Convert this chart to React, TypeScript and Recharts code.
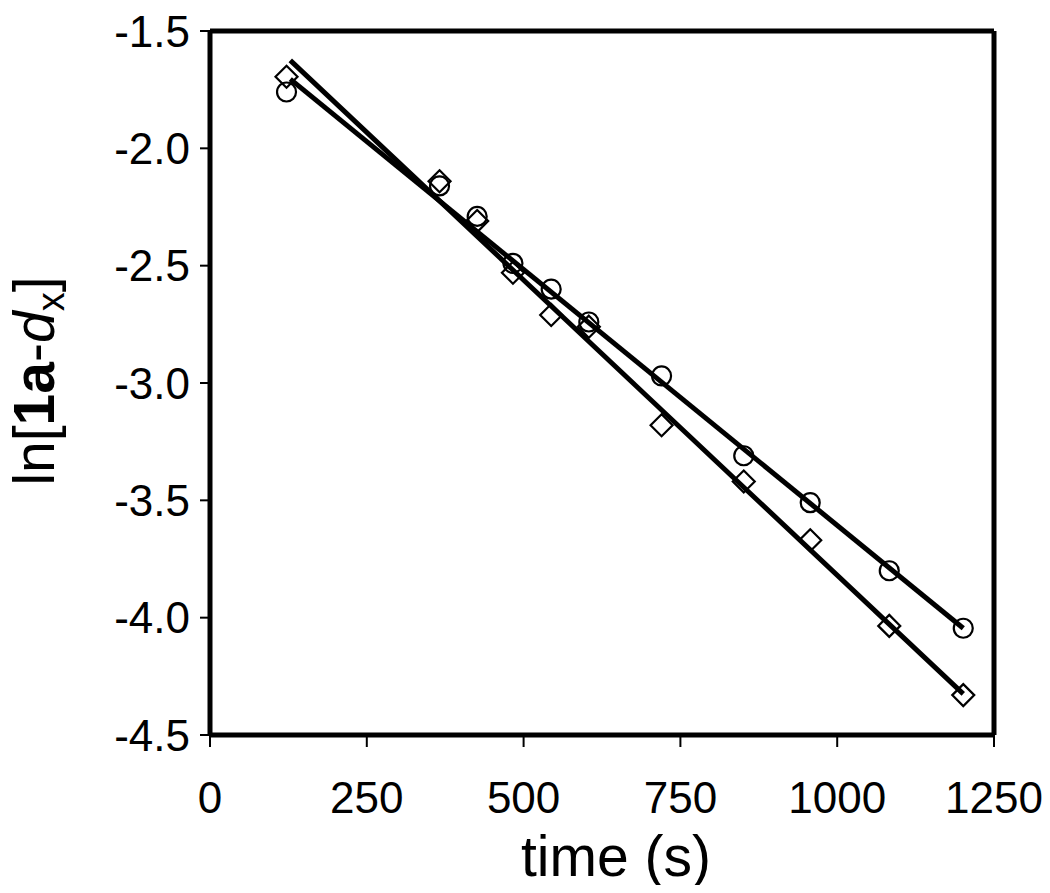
import { ScatterChart, Scatter, XAxis, YAxis, ReferenceLine } from 'recharts'

// sampling times (s), shared by both runs
const times = [122, 366, 426, 483, 544, 604, 720, 851, 957, 1083, 1201]
// ln[1a - dx], circle run
const circleVals = [-1.76, -2.16, -2.29, -2.49, -2.6, -2.74, -2.97, -3.31, -3.51, -3.8, -4.045]
// ln[1a - dx], diamond run
const diamondVals = [-1.695, -2.14, -2.31, -2.53, -2.71, -2.76, -3.18, -3.42, -3.67, -4.035, -4.33]

// linear fits, start / end
const fitTimes = [128, 1201]
const circleFitVals = [-1.705, -4.045]
const diamondFitVals = [-1.625, -4.325]

const xTicks = [0, 250, 500, 750, 1000, 1250]
const yTicks = [-4.5, -4.0, -3.5, -3.0, -2.5, -2.0, -1.5]

const circles = times.map((t, i) => ({ t, v: circleVals[i] }))
const diamonds = times.map((t, i) => ({ t, v: diamondVals[i] }))
const circleFit = fitTimes.map((t, i) => ({ t, v: circleFitVals[i] }))
const diamondFit = fitTimes.map((t, i) => ({ t, v: diamondFitVals[i] }))

const FONT = '"Liberation Sans", Arial, Helvetica, sans-serif'
const tickStyle = { fill: '#000', fontSize: 44, fontFamily: FONT }
const frame = { stroke: '#000', strokeWidth: 5 }

function CircleMark(props: { cx?: number; cy?: number }) {
  const { cx, cy } = props
  if (cx === undefined || cy === undefined) return null
  return <circle cx={cx} cy={cy} r={9.5} fill="none" stroke="#000" strokeWidth={2.2} />
}

function DiamondMark(props: { cx?: number; cy?: number }) {
  const { cx, cy } = props
  if (cx === undefined || cy === undefined) return null
  const s = 11
  return (
    <path
      d={`M${cx},${cy - s}L${cx + s},${cy}L${cx},${cy + s}L${cx - s},${cy}Z`}
      fill="none"
      stroke="#000"
      strokeWidth={2.2}
    />
  )
}

const NoMark = () => <g />

type VB = { x: number; y: number; width: number; height: number }

function YLabel(props: { viewBox?: VB }) {
  const vb = props.viewBox
  if (!vb) return null
  const x = 54
  const y = vb.y + vb.height / 2 - 2
  return (
    <text
      x={x}
      y={y}
      transform={`rotate(-90 ${x} ${y})`}
      textAnchor="middle"
      fontFamily={FONT}
      fontSize={57}
      fill="#000"
    >
      <tspan>ln[</tspan>
      <tspan fontWeight="bold">1a</tspan>
      <tspan>-</tspan>
      <tspan fontStyle="italic">d</tspan>
      <tspan fontSize={38} dy={10}>x</tspan>
      <tspan dy={-10}>]</tspan>
    </text>
  )
}

function XLabel(props: { viewBox?: VB }) {
  const vb = props.viewBox
  if (!vb) return null
  return (
    <text
      x={vb.x + vb.width / 2 + 14}
      y={vb.y + 141}
      textAnchor="middle"
      fontFamily={FONT}
      fontSize={57}
      fill="#000"
    >
      time (s)
    </text>
  )
}

export default function App() {
  // cancel the body's 8px margin so chart pixels line up with page pixels
  return (
    <div style={{ width: 1050, height: 893, margin: -8, background: '#fff' }}>
      <ScatterChart width={1050} height={893} margin={{ top: 31, right: 56, bottom: 0, left: 0 }}>
        <XAxis
          type="number"
          dataKey="t"
          domain={[0, 1250]}
          ticks={xTicks}
          height={158}
          tickSize={12}
          tickMargin={35}
          tick={tickStyle}
          axisLine={false}
          tickLine={{ stroke: '#000', strokeWidth: 2 }}
          label={{ content: <XLabel /> }}
        />
        <YAxis
          type="number"
          dataKey="v"
          domain={[-4.5, -1.5]}
          ticks={yTicks}
          width={210}
          tickSize={10}
          tickMargin={10}
          tick={tickStyle}
          tickFormatter={(v: number) => v.toFixed(1)}
          axisLine={false}
          tickLine={{ stroke: '#000', strokeWidth: 2 }}
          label={{ content: <YLabel /> }}
        />
        <ReferenceLine x={0} {...frame} />
        <ReferenceLine x={1250} {...frame} />
        <ReferenceLine y={-1.5} {...frame} />
        <ReferenceLine y={-4.5} {...frame} />
        <Scatter data={circles} shape={<CircleMark />} isAnimationActive={false} />
        <Scatter data={diamonds} shape={<DiamondMark />} isAnimationActive={false} />
        <Scatter
          data={circleFit}
          shape={<NoMark />}
          line={{ stroke: '#000', strokeWidth: 5 }}
          isAnimationActive={false}
        />
        <Scatter
          data={diamondFit}
          shape={<NoMark />}
          line={{ stroke: '#000', strokeWidth: 5 }}
          isAnimationActive={false}
        />
      </ScatterChart>
    </div>
  )
}
